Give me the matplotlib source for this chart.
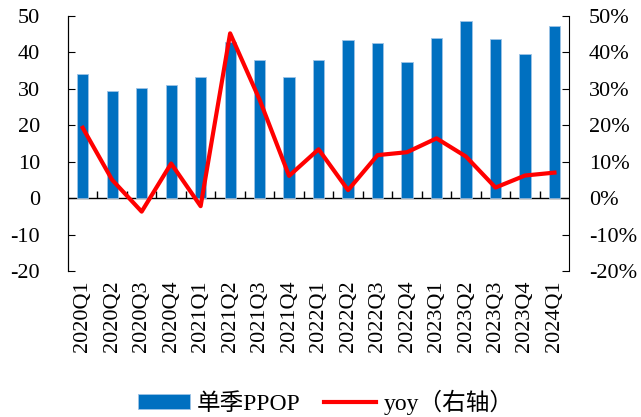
import numpy as np
import matplotlib.pyplot as plt

plt.rcParams['font.family'] = ['Liberation Serif', 'Noto Sans CJK SC']
plt.rcParams['axes.unicode_minus'] = False

quarters = ['2020Q1', '2020Q2', '2020Q3', '2020Q4',
            '2021Q1', '2021Q2', '2021Q3', '2021Q4',
            '2022Q1', '2022Q2', '2022Q3', '2022Q4',
            '2023Q1', '2023Q2', '2023Q3', '2023Q4',
            '2024Q1']
ppop = [34.1, 29.4, 30.1, 31.1, 33.3, 42.7, 37.9, 33.2, 37.8,
        43.4, 42.5, 37.4, 44.0, 48.5, 43.6, 39.6, 47.3]
yoy = [19.3, 5.0, -3.7, 9.5, -2.2, 45.2, 27.0, 6.1, 13.4,
       2.2, 11.8, 12.6, 16.4, 11.4, 2.9, 6.2, 7.0]

x = np.arange(len(quarters))

fig = plt.figure(figsize=(6.41, 4.17), dpi=100)
ax = fig.add_axes([0.106, 0.35, 0.782, 0.612])
ax2 = ax.twinx()

ax.bar(x, ppop, width=0.38, color='#0070C0', edgecolor='#9DC3E6',
       linewidth=0.6, label='单季PPOP', zorder=2)
ax2.plot(x, yoy, color='#FF0000', linewidth=3, label='yoy（右轴）', zorder=3)

ax.set_xlim(-0.5, len(quarters) - 0.5)
ax.set_ylim(-20, 50)
ax2.set_ylim(-20, 50)
ax.set_yticks(np.arange(-20, 51, 10))
ax2.set_yticks(np.arange(-20, 51, 10))
ax2.set_yticklabels(['%d%%' % v for v in np.arange(-20, 51, 10)])

ax.set_xticks(x)
ax.set_xticklabels(quarters, rotation=90)
ax.tick_params(axis='x', length=0, pad=7, labelsize=16)
ax.tick_params(axis='y', direction='in', length=5, labelsize=16, pad=20)
ax2.tick_params(axis='y', direction='in', length=5, labelsize=16, pad=14)

for a in (ax, ax2):
    a.spines['top'].set_visible(False)
    a.spines['bottom'].set_visible(False)
ax.spines['right'].set_visible(False)

ax.axhline(0, color='black', linewidth=1, zorder=1)
ax.vlines(x[:-1] + 0.5, 0, 1.9, color='black', linewidth=1, zorder=1)

h1, l1 = ax.get_legend_handles_labels()
h2, l2 = ax2.get_legend_handles_labels()
fig.legend(h1 + h2, l1 + l2, loc='center', bbox_to_anchor=(0.508, 0.036),
           ncol=2, frameon=False, fontsize=17, handlelength=2.2,
           handleheight=0.6, columnspacing=1.0, handletextpad=0.3)

plt.savefig('out.png')
